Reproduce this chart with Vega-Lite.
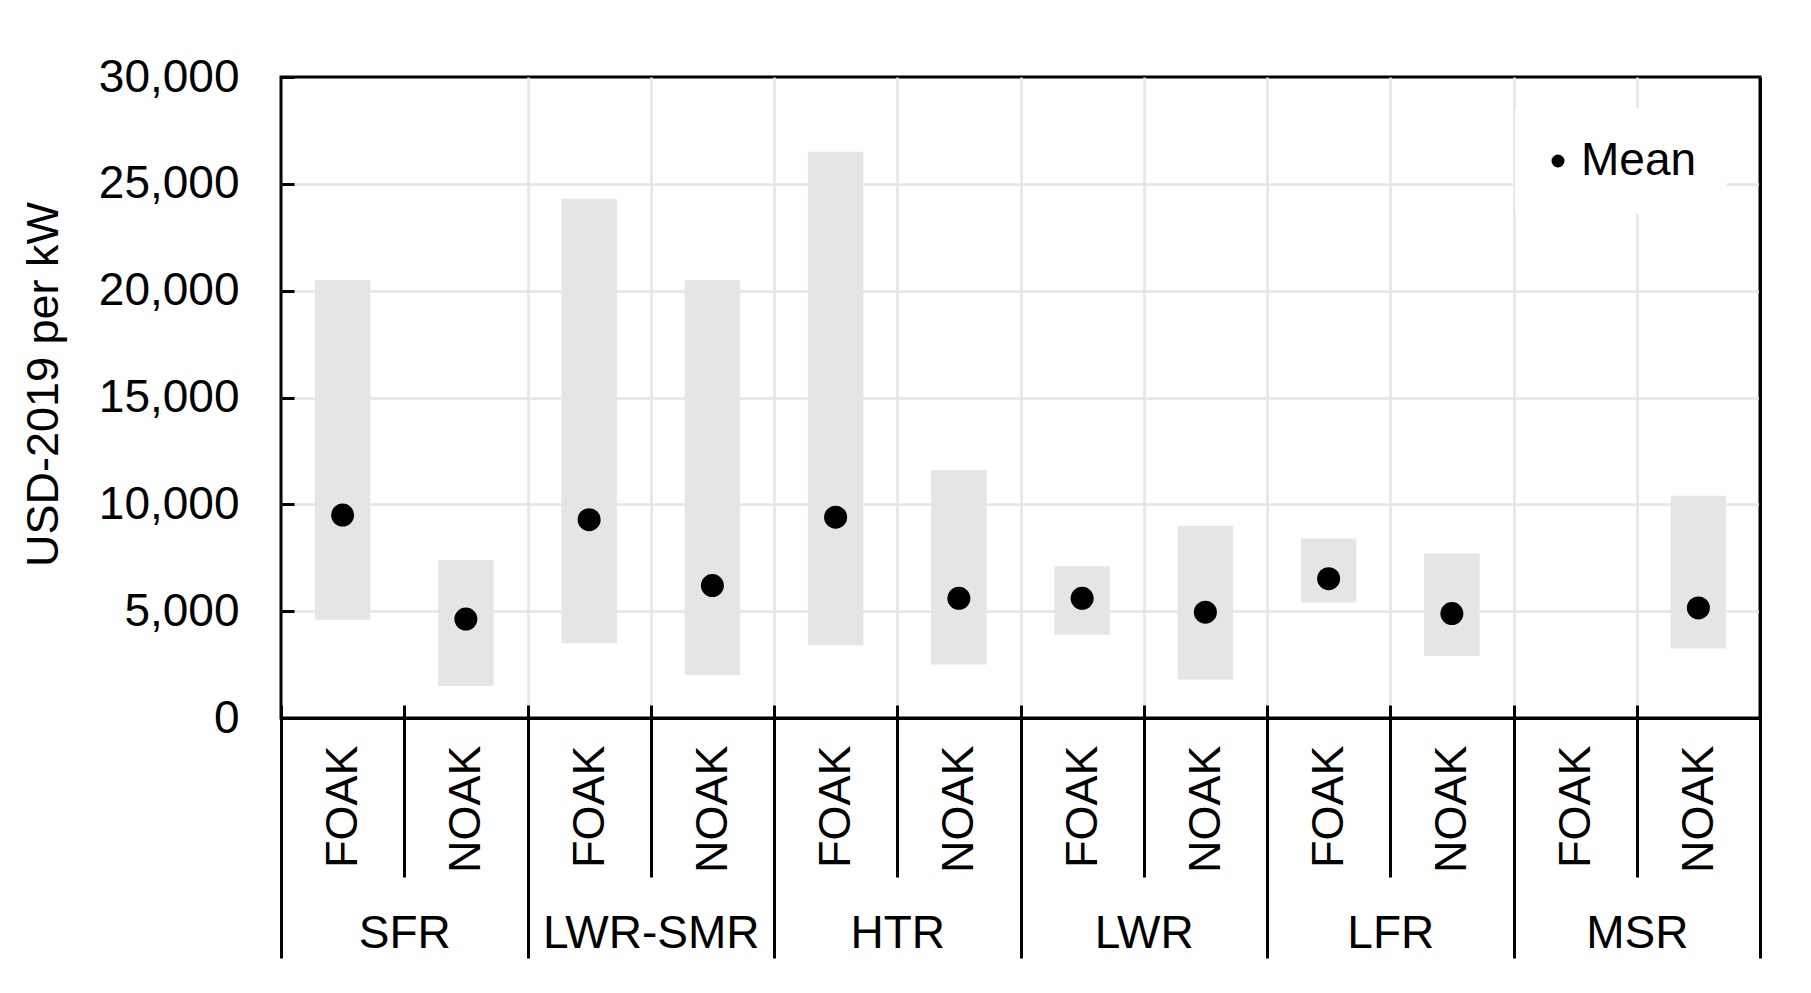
{
  "$schema": "https://vega.github.io/schema/vega-lite/v6.json",
  "width": 1479,
  "height": 641,
  "autosize": {"type": "none"},
  "padding": {"left": 281, "top": 77, "right": 51, "bottom": 275},
  "background": "white",
  "config": {
    "font": "Liberation Sans",
    "view": {"stroke": "black", "strokeWidth": 3},
    "axis": {"labelColor": "black", "titleColor": "black", "labelFont": "Liberation Sans", "titleFont": "Liberation Sans"}
  },
  "data": {
    "values": [
      {"group": "SFR", "type": "FOAK", "key": "SFR|FOAK", "low": 4600, "high": 20500, "mean": 9500},
      {"group": "SFR", "type": "NOAK", "key": "SFR|NOAK", "low": 1500, "high": 7400, "mean": 4630},
      {"group": "LWR-SMR", "type": "FOAK", "key": "LWR-SMR|FOAK", "low": 3500, "high": 24300, "mean": 9280},
      {"group": "LWR-SMR", "type": "NOAK", "key": "LWR-SMR|NOAK", "low": 2000, "high": 20500, "mean": 6200},
      {"group": "HTR", "type": "FOAK", "key": "HTR|FOAK", "low": 3400, "high": 26500, "mean": 9400},
      {"group": "HTR", "type": "NOAK", "key": "HTR|NOAK", "low": 2500, "high": 11600, "mean": 5600},
      {"group": "LWR", "type": "FOAK", "key": "LWR|FOAK", "low": 3900, "high": 7100, "mean": 5600},
      {"group": "LWR", "type": "NOAK", "key": "LWR|NOAK", "low": 1800, "high": 9000, "mean": 4950},
      {"group": "LFR", "type": "FOAK", "key": "LFR|FOAK", "low": 5400, "high": 8400, "mean": 6520},
      {"group": "LFR", "type": "NOAK", "key": "LFR|NOAK", "low": 2900, "high": 7700, "mean": 4890},
      {"group": "MSR", "type": "FOAK", "key": "MSR|FOAK", "low": null, "high": null, "mean": null},
      {"group": "MSR", "type": "NOAK", "key": "MSR|NOAK", "low": 3250, "high": 10400, "mean": 5150}
    ]
  },
  "layer": [
    {
      "mark": {"type": "bar", "color": "#e5e5e5", "width": {"band": 0.45}},
      "encoding": {
        "x": {
          "field": "key", "type": "nominal", "sort": null,
          "scale": {"domain": ["SFR|FOAK","SFR|NOAK","LWR-SMR|FOAK","LWR-SMR|NOAK","HTR|FOAK","HTR|NOAK","LWR|FOAK","LWR|NOAK","LFR|FOAK","LFR|NOAK","MSR|FOAK","MSR|NOAK"], "paddingInner": 0, "paddingOuter": 0},
          "axis": {
            "orient": "bottom", "title": null,
            "labelExpr": "split(datum.label, '|')[1]",
            "labelAngle": -90, "labelFontSize": 45, "labelPadding": -132,
            "tickBand": "extent", "tickSize": 159, "tickColor": "black", "tickWidth": 3,
            "domain": true, "domainColor": "black", "domainWidth": 3,
            "grid": true, "gridWidth": 2.5,
            "gridColor": {"condition": {"test": "datum.value === 'SFR|FOAK' || datum.index < 0 || datum.extra", "value": "transparent"}, "value": "#e5e5e5"}
          }
        },
        "y": {
          "field": "low", "type": "quantitative",
          "scale": {"domain": [0, 30000], "nice": false, "zero": true},
          "axis": {
            "orient": "left", "title": "USD-2019 per kW", "titleFontSize": 45, "titleFontWeight": "normal", "titlePadding": 32, "titleY": 307,
            "values": [0, 5000, 10000, 15000, 20000, 25000, 30000], "format": ",.0f",
            "labelFontSize": 46, "labelPadding": 42, "ticks": false, "domain": false,
            "grid": true, "gridWidth": 2.5,
            "gridColor": {"condition": {"test": "datum.value === 30000 || datum.value === 0", "value": "transparent"}, "value": "#e5e5e5"}
          }
        },
        "y2": {"field": "high"}
      }
    },
    {
      "mark": {"type": "point", "filled": true, "size": 529, "opacity": 1},
      "encoding": {
        "x": {
          "field": "key", "type": "nominal", "sort": null,
          "scale": {"domain": ["SFR|FOAK","SFR|NOAK","LWR-SMR|FOAK","LWR-SMR|NOAK","HTR|FOAK","HTR|NOAK","LWR|FOAK","LWR|NOAK","LFR|FOAK","LFR|NOAK","MSR|FOAK","MSR|NOAK"], "paddingInner": 0, "paddingOuter": 0},
          "axis": {
            "orient": "bottom", "title": null, "labels": false, "domain": false, "grid": false,
            "offset": -13, "tickBand": "extent", "tickSize": 13, "tickColor": "black", "tickWidth": 3
          }
        },
        "y": {
          "field": "mean", "type": "quantitative",
          "scale": {"domain": [0, 30000], "nice": false},
          "axis": {
            "orient": "left", "title": null, "labels": false, "domain": false, "grid": false,
            "values": [0, 5000, 10000, 15000, 20000, 25000, 30000],
            "offset": -13, "tickSize": 13, "tickColor": "black", "tickWidth": 3
          }
        },
        "color": {
          "datum": "Mean",
          "scale": {"range": ["black"]},
          "legend": {
            "title": null, "orient": "none", "legendX": 1234, "legendY": 31,
            "fillColor": "white", "padding": 30, "symbolType": "circle", "symbolSize": 169,
            "symbolFillColor": "black", "symbolStrokeWidth": 0, "symbolOffset": -10,
            "labelFontSize": 46, "labelOffset": 0, "labelColor": "black", "labelFont": "Liberation Sans"
          }
        }
      }
    },
    {
      "data": {"values": [{"group": "SFR"}, {"group": "LWR-SMR"}, {"group": "HTR"}, {"group": "LWR"}, {"group": "LFR"}, {"group": "MSR"}]},
      "mark": {"type": "point", "opacity": 0},
      "encoding": {
        "x": {
          "field": "group", "type": "nominal", "sort": null,
          "scale": {"domain": ["SFR", "LWR-SMR", "HTR", "LWR", "LFR", "MSR"], "paddingInner": 0, "paddingOuter": 0},
          "axis": {
            "orient": "bottom", "title": null, "labelAngle": 0, "labelFontSize": 46, "labelLimit": 500,
            "labelBaseline": "alphabetic", "labelPadding": -11,
            "tickBand": "extent", "tickSize": 240, "tickColor": "black", "tickWidth": 3,
            "domain": false, "grid": false
          }
        },
        "y": {
          "datum": 0, "type": "quantitative",
          "axis": {
            "orient": "right", "title": null, "labels": false, "ticks": false, "grid": false,
            "domain": true, "domainColor": "black", "domainWidth": 3
          }
        }
      }
    }
  ],
  "resolve": {"scale": {"x": "independent"}, "axis": {"x": "independent", "y": "independent"}}
}
